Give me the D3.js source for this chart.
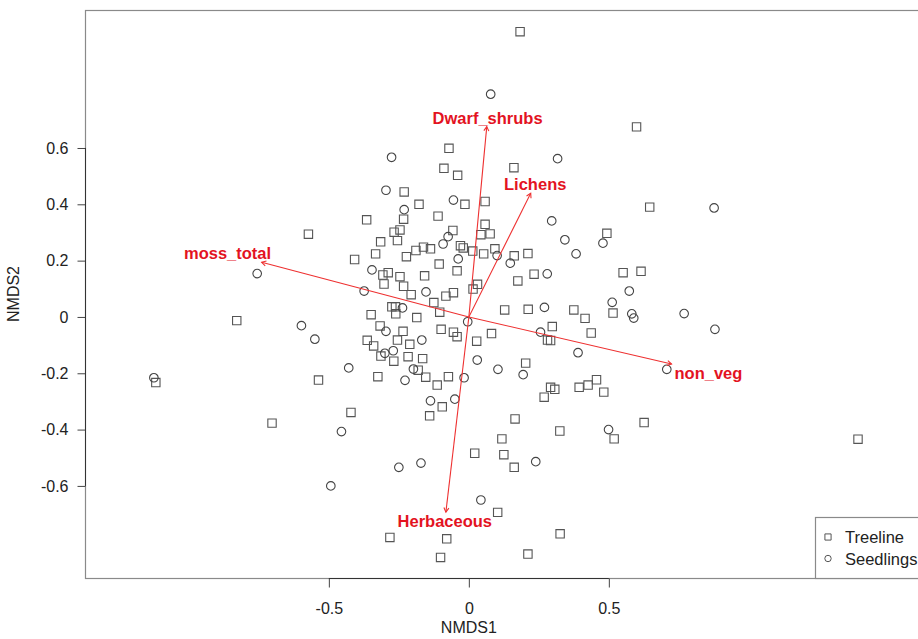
<!DOCTYPE html>
<html>
<head>
<meta charset="utf-8">
<script src="https://cdn.jsdelivr.net/npm/d3@7"></script>
<style>
  body { margin: 0; background: #fff; }
  text { font-family: "Liberation Sans", Arial, Helvetica, sans-serif; }
  .tick text { font-size: 16px; fill: #222; }
  .axis-title { font-size: 16px; fill: #222; }
  .vec-label { font-size: 16.5px; font-weight: bold; fill: #e3131f; }
  .legend text { font-size: 16.5px; fill: #222; }
</style>
</head>
<body>
<div id="viz"></div>
<script>
// Width and height
var w = 918;
var h = 639;

// NMDS site scores
var treeline = [
  [-0.071, 0.599], [-0.089, 0.528], [0.161, 0.530], [-0.040, 0.503], [-0.231, 0.444],
  [-0.014, 0.400], [0.058, 0.410], [-0.178, 0.400], [-0.110, 0.358], [-0.365, 0.345],
  [-0.233, 0.347], [0.058, 0.329], [-0.573, 0.294], [-0.267, 0.301], [-0.246, 0.309],
  [-0.057, 0.307], [0.043, 0.292], [0.076, 0.295], [0.493, 0.297], [-0.315, 0.267],
  [-0.255, 0.271], [-0.030, 0.253], [-0.020, 0.245], [-0.189, 0.236], [-0.162, 0.248],
  [-0.137, 0.242], [0.014, 0.234], [0.093, 0.242], [0.053, 0.224], [0.162, 0.217],
  [0.211, 0.225], [-0.333, 0.224], [-0.223, 0.214], [-0.408, 0.204], [-0.106, 0.188],
  [-0.042, 0.164], [-0.288, 0.157], [-0.307, 0.149], [-0.246, 0.143], [-0.158, 0.146],
  [0.233, 0.152], [0.551, 0.157], [0.175, 0.128], [-0.303, 0.117], [-0.233, 0.109],
  [0.031, 0.116], [0.015, 0.099], [-0.206, 0.079], [-0.055, 0.086], [-0.082, 0.074],
  [-0.125, 0.051], [-0.275, 0.036], [-0.262, 0.036], [-0.104, 0.017], [0.128, 0.025],
  [0.212, 0.027], [0.375, 0.025], [0.515, 0.014], [-0.349, 0.008], [-0.261, 0.011],
  [-0.186, -0.002], [0.415, -0.005], [-0.317, -0.032], [-0.235, -0.051], [-0.099, -0.044],
  [-0.055, -0.054], [-0.042, -0.070], [0.298, -0.034], [0.437, -0.057], [0.081, -0.059],
  [-0.363, -0.083], [-0.340, -0.103], [-0.255, -0.082], [-0.211, -0.097], [0.028, -0.086],
  [0.281, -0.082], [0.292, -0.084], [-0.314, -0.139], [-0.217, -0.141], [-0.165, -0.148],
  [-0.268, -0.157], [-0.181, -0.189], [0.203, -0.164], [-0.537, -0.224], [-0.325, -0.212],
  [-0.154, -0.214], [-0.073, -0.212], [-0.113, -0.242], [0.292, -0.250], [0.307, -0.257],
  [0.394, -0.250], [0.426, -0.242], [0.456, -0.223], [0.482, -0.267], [0.269, -0.285],
  [-0.095, -0.319], [-0.421, -0.339], [-0.140, -0.351], [0.165, -0.362], [0.325, -0.405],
  [0.519, -0.433], [0.118, -0.433], [0.021, -0.484], [0.125, -0.489], [0.162, -0.534],
  [0.183, 1.013], [0.599, 0.675], [-0.829, -0.013], [-1.118, -0.233], [0.615, 0.162],
  [0.646, 0.390], [-0.703, -0.377], [0.626, -0.375], [0.103, -0.694], [-0.282, -0.783],
  [-0.079, -0.788], [0.326, -0.770], [-0.101, -0.854], [0.211, -0.842], [1.390, -0.434]
];

var seedlings = [
  [-0.276, 0.567], [0.317, 0.562], [-0.296, 0.450], [-0.055, 0.415], [-0.231, 0.381],
  [0.296, 0.341], [-0.074, 0.285], [0.343, 0.274], [0.479, 0.262], [-0.092, 0.259],
  [0.101, 0.218], [0.383, 0.224], [-0.038, 0.206], [0.148, 0.191], [-0.346, 0.167],
  [0.280, 0.153], [-0.374, 0.092], [-0.153, 0.089], [0.573, 0.092], [0.512, 0.052],
  [-0.237, 0.032], [0.270, 0.034], [0.582, 0.011], [0.589, -0.004], [-0.004, -0.017],
  [-0.598, -0.031], [-0.296, -0.051], [0.256, -0.054], [-0.550, -0.079], [-0.168, -0.082],
  [0.390, -0.127], [-0.270, -0.120], [-0.300, -0.129], [0.030, -0.153], [-0.429, -0.181],
  [-0.198, -0.185], [0.104, -0.186], [0.194, -0.205], [-0.228, -0.225], [-0.017, -0.216],
  [-0.137, -0.298], [-0.050, -0.292], [-0.455, -0.407], [0.499, -0.400], [0.239, -0.514],
  [-0.250, -0.534], [-0.171, -0.519], [-0.493, -0.600], [0.078, 0.791], [-0.756, 0.154],
  [-1.125, -0.216], [0.876, 0.387], [0.769, 0.012], [0.879, -0.044], [0.707, -0.186],
  [0.043, -0.650]
];

// envfit vectors
var vectorNames = ["Dwarf_shrubs", "Lichens", "moss_total", "non_veg", "Herbaceous"];
var vectorX = [0.064, 0.221, -0.740, 0.724, -0.082];
var vectorY = [0.676, 0.439, 0.194, -0.167, -0.693];

var xTicks = [-0.5, 0, 0.5];
var yTicks = [-0.6, -0.4, -0.2, 0, 0.2, 0.4, 0.6];
var groups = ["Treeline", "Seedlings"];

var xScale = d3.scaleLinear().domain([-1.371, 1.64]).range([85, 928]);
var yScale = d3.scaleLinear().domain([-0.927, 1.09]).range([578, 10]);

var svg = d3.select("#viz")
            .append("svg")
            .attr("width", w)
            .attr("height", h);

svg.append("rect").attr("width", w).attr("height", h).attr("fill", "#fff");

// plot box
svg.append("rect")
    .attr("x", xScale.range()[0] + 0.5)
    .attr("y", yScale.range()[1] + 0.5)
    .attr("width", xScale.range()[1] - xScale.range()[0])
    .attr("height", yScale.range()[0] - yScale.range()[1])
    .attr("fill", "none")
    .attr("stroke", "#8a8a8a")
    .attr("stroke-width", 1.2);

// axes (R style: line only between first and last tick)
var xAxis = svg.append("g")
    .attr("transform", "translate(0," + (yScale.range()[0] + 0.5) + ")")
    .call(d3.axisBottom(xScale).tickValues(xTicks).tickSize(9).tickPadding(15).tickFormat(function(d) { return String(d); }));
xAxis.select(".domain").remove();
xAxis.append("line")
    .attr("x1", xScale(xTicks[0])).attr("x2", xScale(xTicks[xTicks.length - 1]))
    .attr("stroke", "#333");

var yAxis = svg.append("g")
    .attr("transform", "translate(" + (xScale.range()[0] + 0.5) + ",0)")
    .call(d3.axisLeft(yScale).tickValues(yTicks).tickSize(8).tickPadding(9).tickFormat(function(d) { return String(d); }));
yAxis.select(".domain").remove();
yAxis.append("line")
    .attr("y1", yScale(yTicks[0])).attr("y2", yScale(yTicks[yTicks.length - 1]))
    .attr("stroke", "#333");
svg.selectAll(".tick line").attr("stroke", "#444");

svg.append("text").attr("class", "axis-title")
    .attr("x", xScale(0))
    .attr("y", 633)
    .attr("text-anchor", "middle")
    .text("NMDS1");

svg.append("text").attr("class", "axis-title")
    .attr("transform", "translate(19," + (yScale.range()[0] + yScale.range()[1]) / 2 + ") rotate(-90)")
    .attr("text-anchor", "middle")
    .text("NMDS2");

// points
var square = d3.symbol().type(d3.symbolSquare).size(70);
var circle = d3.symbol().type(d3.symbolCircle).size(58);

svg.append("g").selectAll("path")
    .data(treeline)
    .enter()
    .append("path")
    .attr("d", square)
    .attr("transform", function(d) { return "translate(" + xScale(d[0]) + "," + yScale(d[1]) + ")"; })
    .attr("fill", "none")
    .attr("stroke", "#555")
    .attr("stroke-width", 1.1);

svg.append("g").selectAll("path")
    .data(seedlings)
    .enter()
    .append("path")
    .attr("d", circle)
    .attr("transform", function(d) { return "translate(" + xScale(d[0]) + "," + yScale(d[1]) + ")"; })
    .attr("fill", "none")
    .attr("stroke", "#444")
    .attr("stroke-width", 1.1);

// vectors
var ox = xScale(0), oy = yScale(0);
var vecs = svg.append("g").selectAll("g.vec")
    .data(vectorNames.map(function(n, i) { return { name: n, x: vectorX[i], y: vectorY[i] }; }))
    .enter()
    .append("g")
    .attr("class", "vec");

vecs.append("line")
    .attr("x1", ox).attr("y1", oy)
    .attr("x2", function(d) { return xScale(d.x); })
    .attr("y2", function(d) { return yScale(d.y); })
    .attr("stroke", "#ee3030")
    .attr("stroke-width", 1.1);

vecs.append("path")
    .attr("d", function(d) {
        var tx = xScale(d.x), ty = yScale(d.y);
        var a = Math.atan2(ty - oy, tx - ox), L = 5, s = Math.PI / 6;
        return "M" + (tx - L * Math.cos(a - s)) + "," + (ty - L * Math.sin(a - s)) +
               "L" + tx + "," + ty +
               "L" + (tx - L * Math.cos(a + s)) + "," + (ty - L * Math.sin(a + s));
    })
    .attr("fill", "none")
    .attr("stroke", "#ee3030")
    .attr("stroke-width", 1.1);

// labels placed beyond the arrow head, like vegan's ordiArrowTextXY
vecs.append("text")
    .attr("class", "vec-label")
    .attr("text-anchor", "middle")
    .attr("dominant-baseline", "central")
    .text(function(d) { return d.name; })
    .each(function(d) {
        var tw = this.getComputedTextLength(), th = 12;
        var tx = xScale(d.x), ty = yScale(d.y);
        var dx = tx - ox, dy = ty - oy, b = dy / dx;
        var offX = Math.sign(dx) * (tw / 2 + th / 4), offY = 0.75 * th * Math.sign(dy);
        var move = offY / b;
        if (isFinite(move) && Math.abs(move) <= Math.abs(offX)) offX = move;
        else offY = b * offX;
        d3.select(this).attr("x", tx + offX).attr("y", ty + offY);
    });

// legend
var legend = svg.append("g").attr("class", "legend")
    .attr("transform", "translate(815,517)");
legend.append("rect")
    .attr("x", 0.5).attr("y", 0.5)
    .attr("width", 140).attr("height", 61)
    .attr("fill", "#fff")
    .attr("stroke", "#8a8a8a")
    .attr("stroke-width", 1.2);
var legendSym = [d3.symbol().type(d3.symbolSquare).size(38), d3.symbol().type(d3.symbolCircle).size(32)];
groups.forEach(function(g, i) {
    legend.append("path")
        .attr("d", legendSym[i])
        .attr("transform", "translate(13," + (20 + i * 21.5) + ")")
        .attr("fill", "none")
        .attr("stroke", "#555");
    legend.append("text")
        .attr("x", 30)
        .attr("y", 20 + i * 21.5)
        .attr("dominant-baseline", "central")
        .text(g);
});
</script>
</body>
</html>
